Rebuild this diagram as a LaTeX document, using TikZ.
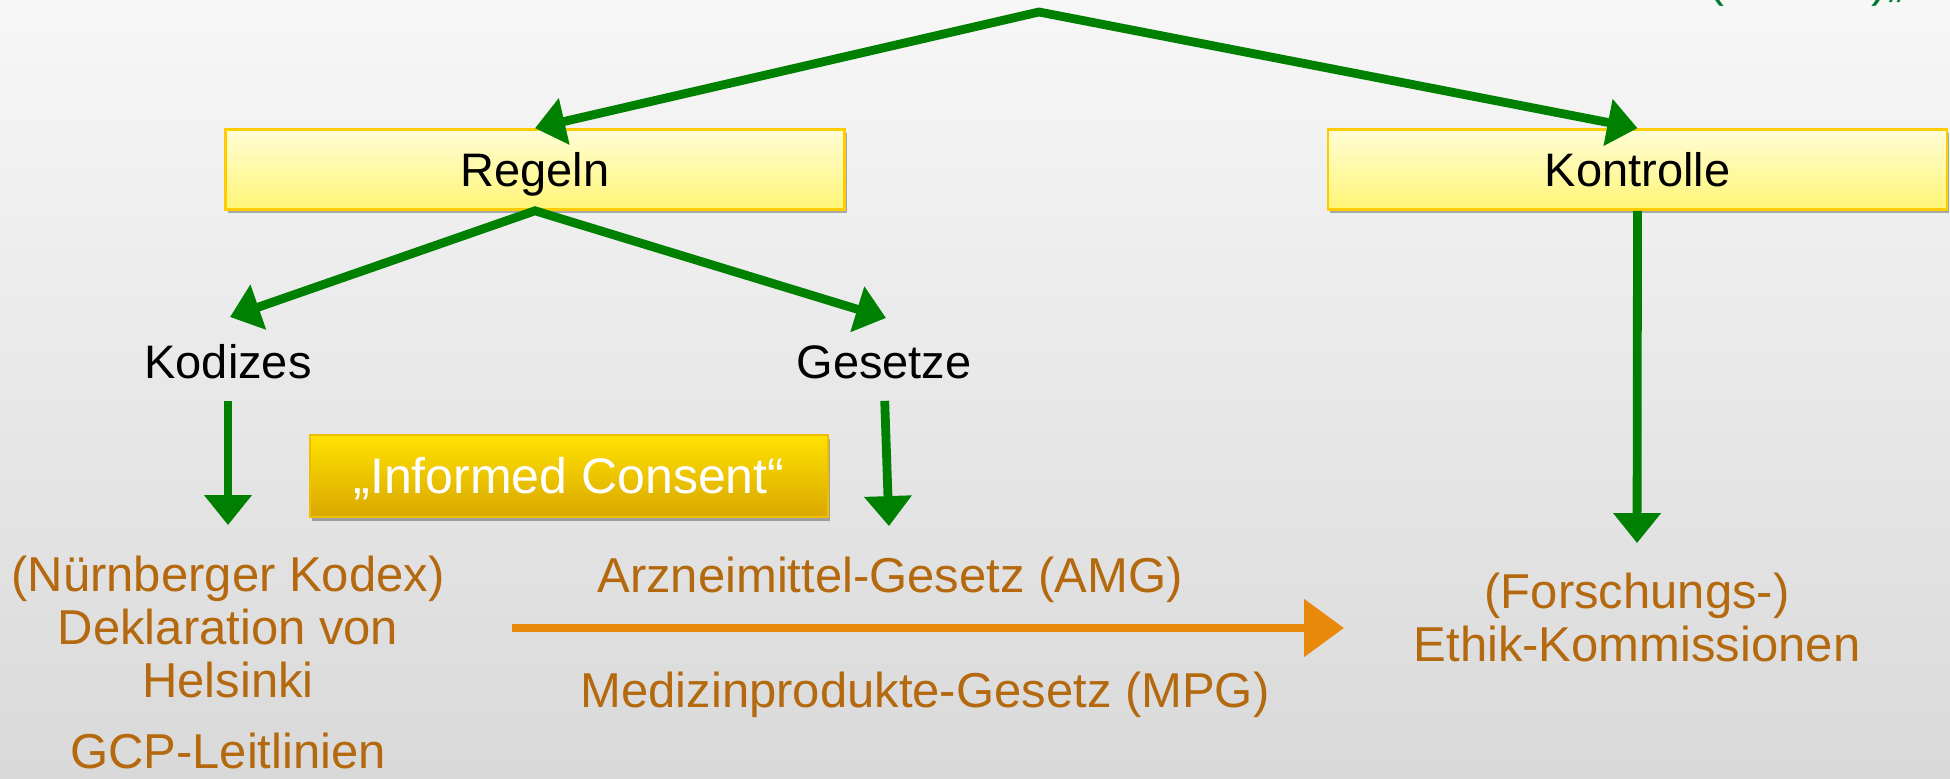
\documentclass[tikz,border=0pt]{standalone}
\usepackage{fontspec}
\setmainfont{Liberation Sans}
\usetikzlibrary{arrows.meta,shadows}

\definecolor{bgtop}{HTML}{F7F7F7}
\definecolor{bgbot}{HTML}{D9D9D9}
\definecolor{arrowgreen}{HTML}{008000}
\definecolor{titlegreen}{HTML}{007A33}
\definecolor{flow}{HTML}{E8890C}
\definecolor{brown}{HTML}{B4690E}
\definecolor{boxtop}{HTML}{FFFDD6}
\definecolor{boxbot}{HTML}{FFF575}
\definecolor{boxline}{HTML}{FFCC00}
\definecolor{goldtop}{HTML}{FFE200}
\definecolor{goldbot}{HTML}{D9A700}
\definecolor{goldline}{HTML}{EEBF00}

\tikzset{gtip/.tip={Triangle[length=15pt, width=23pt]}}

\begin{document}
\begin{tikzpicture}[x=0.5pt, y=-0.5pt,
  topic/.style={draw=boxline, line width=1.3pt, top color=boxtop, bottom color=boxbot,
    minimum width=309.5pt, minimum height=40pt, inner sep=0pt,
    text height=17.5pt, text depth=0pt, font=\fontsize{23.5}{28}\selectfont,
    drop shadow={shadow xshift=1.2pt, shadow yshift=-2pt, opacity=0.3, fill=black}},
  goldbox/.style={draw=goldline, line width=1.3pt, top color=goldtop, bottom color=goldbot,
    minimum width=259pt, minimum height=41pt, inner sep=0pt, text=white,
    text height=18pt, text depth=0pt, font=\fontsize{25}{30}\selectfont,
    drop shadow={shadow xshift=1.2pt, shadow yshift=-2pt, opacity=0.3, fill=black}},
  label/.style={anchor=base, inner sep=0pt, font=\fontsize{23.5}{28}\selectfont},
  entry/.style={anchor=base, inner sep=0pt, text=brown, font=\fontsize{24.5}{29}\selectfont},
  garrow/.style={draw=arrowgreen, line width=4.4pt, line join=miter, -{gtip}},
  gpair/.style={draw=arrowgreen, line width=4.4pt, line join=miter, {gtip}-{gtip}},
  farrow/.style={draw=flow, line width=4.4pt, -{Triangle[length=20pt, width=28pt]}}
]
\useasboundingbox (0,0) rectangle (1950,779);
\clip (0,0) rectangle (1950,779);

% backdrop
\shade[top color=bgtop, bottom color=bgbot] (0,0) rectangle (1950,779);

% heading, running off the top edge
\node[anchor=base west, inner sep=0pt, text=titlegreen, font=\fontsize{24}{29}\selectfont]
  (heading) at (1708,-3) {(Schutz)„};

% main branches
\node[topic] (Regeln) at (535,169.5) {Regeln};
\node[topic] (Kontrolle) at (1637.5,169.5) {Kontrolle};

\coordinate (apex) at (1039,12);
\draw[gpair] (Regeln.north) -- (apex) -- (Kontrolle.north);

% second level
\node[label] (Kodizes) at (228,379) {Kodizes};
\node[label] (Gesetze) at (884,379) {Gesetze};

\coordinate (kodTip) at (230,317);
\coordinate (gesTip) at (886,318);
\draw[gpair] (kodTip) -- (Regeln.south) -- (gesTip);

% codes
\node[entry] (nue) at (228,592) {(Nürnberger Kodex)};
\node[entry] (dek) at (228,645) {Deklaration von};
\node[entry] (hel) at (228,698) {Helsinki};
\node[entry] (gcp) at (228,769) {GCP-Leitlinien};

% laws
\node[entry] (amg) at (890,593) {Arzneimittel-Gesetz (AMG)};
\node[entry] (mpg) at (925,708) {Medizinprodukte-Gesetz (MPG)};

% committees
\node[entry] (for) at (1637,609) {(Forschungs-)};
\node[entry] (eth) at (1637,662) {Ethik-Kommissionen};

\node[goldbox] (consent) at (569,476) {„Informed Consent“};

\draw[garrow, shorten <=10.5pt, shorten >=15.5pt] (Kodizes.south) -- (nue.north);
\draw[garrow, shorten <=10.5pt, shorten >=15.5pt] (Gesetze.south) -- (amg.north);
\draw[garrow, shorten >=15pt] (Kontrolle.south) -- (for.north);

% flow towards the committees
\coordinate (flowStart) at (512,628);
\coordinate (flowEnd) at (1344,628);
\draw[farrow] (flowStart) -- (flowEnd);
\end{tikzpicture}
\end{document}
